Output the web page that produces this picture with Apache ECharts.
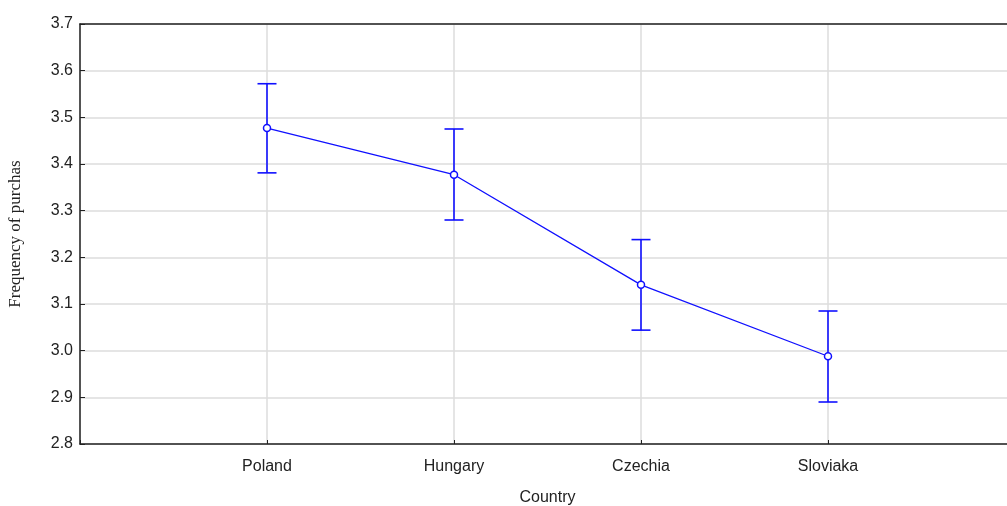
<!DOCTYPE html>
<html>
<head>
<meta charset="utf-8">
<script src="https://cdn.jsdelivr.net/npm/echarts@6/dist/echarts.min.js"></script>
<style>
  html, body { margin: 0; padding: 0; background: #fff; }
  #chart { width: 1007px; height: 506px; }
</style>
</head>
<body>
<div id="chart"></div>
<script>
// padded with blanks on both sides so the points sit one slot in from the edges
var categories = ['', 'Poland', 'Hungary', 'Czechia', 'Sloviaka', ''];
var countries = ['Poland', 'Hungary', 'Czechia', 'Sloviaka'];
var means = [3.477, 3.377, 3.141, 2.988];
var upper = [3.572, 3.475, 3.238, 3.085];
var lower = [3.381, 3.280, 3.044, 2.890];

var blue = '#1010ff';
var tickFont = 'Liberation Sans Narrow, Liberation Sans, Arial, sans-serif';

var meanData = [];
var barData = [];
for (var i = 0; i < countries.length; i++) {
    meanData.push([countries[i], means[i]]);
    barData.push([countries[i], lower[i], upper[i]]);
}

var chart = echarts.init(document.getElementById('chart'));
chart.setOption({
    animation: false,
    backgroundColor: '#fff',
    grid: {
        left: 80, right: -8, top: 24, bottom: 62,
        outerBoundsMode: 'none',
        containLabel: false,
        show: false
    },
    xAxis: [{
        type: 'category',
        data: categories,
        boundaryGap: false,
        name: 'Country',
        nameLocation: 'middle',
        nameGap: 46,
        nameTextStyle: { fontFamily: tickFont, fontSize: 16, color: '#222' },
        axisLine: { lineStyle: { color: '#222', width: 1.5 } },
        axisTick: { inside: true, length: 4, lineStyle: { color: '#222' } },
        axisLabel: { fontFamily: tickFont, fontSize: 16, color: '#222', margin: 15 },
        splitLine: { show: true, lineStyle: { color: '#dcdcdc', width: 1.5 } }
    }, {
        // top frame line only
        type: 'category',
        data: categories,
        position: 'top',
        axisLine: { lineStyle: { color: '#222', width: 1.5 } },
        axisTick: { show: false },
        axisLabel: { show: false },
        splitLine: { show: false }
    }],
    yAxis: {
        type: 'value',
        min: 2.8, max: 3.7, interval: 0.1,
        name: 'Frequency of purchas',
        nameLocation: 'middle',
        nameGap: 56,
        nameTextStyle: { fontFamily: 'Liberation Serif, Times New Roman, serif', fontSize: 17, color: '#222' },
        axisLine: { show: true, lineStyle: { color: '#222', width: 1.5 } },
        axisTick: { show: true, inside: true, length: 5, lineStyle: { color: '#222' } },
        axisLabel: {
            fontFamily: tickFont, fontSize: 16, color: '#222', margin: 7,
            formatter: function (v) { return v.toFixed(1); }
        },
        splitLine: { show: true, lineStyle: { color: '#dcdcdc', width: 1.5 } }
    },
    series: [
        {
            type: 'custom',
            data: barData,
            z: 3,
            renderItem: function (params, api) {
                var top = api.coord([api.value(0), api.value(2)]);
                var bot = api.coord([api.value(0), api.value(1)]);
                var w = 9.5;
                var style = { stroke: blue, lineWidth: 1.6 };
                return {
                    type: 'group',
                    children: [
                        { type: 'line', shape: { x1: top[0], y1: top[1], x2: bot[0], y2: bot[1] }, style: style },
                        { type: 'line', shape: { x1: top[0] - w, y1: top[1], x2: top[0] + w, y2: top[1] }, style: style },
                        { type: 'line', shape: { x1: bot[0] - w, y1: bot[1], x2: bot[0] + w, y2: bot[1] }, style: style }
                    ]
                };
            }
        },
        {
            type: 'line',
            data: meanData,
            z: 4,
            symbol: 'circle',
            symbolSize: 7,
            lineStyle: { color: blue, width: 1.3 },
            itemStyle: { color: '#fff', borderColor: blue, borderWidth: 1.5 }
        }
    ]
});
</script>
</body>
</html>
